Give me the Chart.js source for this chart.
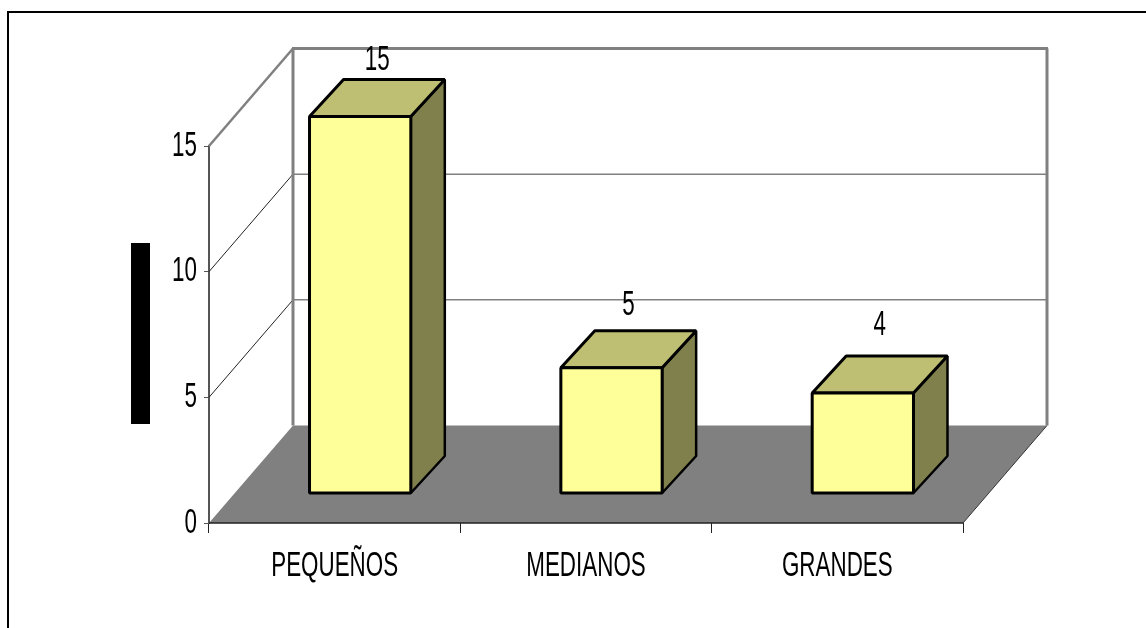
<!DOCTYPE html>
<html>
<head>
<meta charset="utf-8">
<script src="https://cdn.jsdelivr.net/npm/chart.js@4/dist/chart.umd.min.js"></script>
<style>
  html, body { margin: 0; padding: 0; background: #fff; overflow: hidden; }
  canvas { display: block; }
</style>
</head>
<body>
<canvas id="chart" width="1146" height="628"></canvas>
<script>
const categories = ['PEQUEÑOS', 'MEDIANOS', 'GRANDES']
const values = [15, 5, 4]
const yMax = 15
const yStep = 5

// 3d look
const wallDx = 84, wallDy = -97.5
const barShiftX = 25.5, barShiftY = -29.5
const barDx = 34, barDy = -37
const labelLift = [56, 62, 68]
const fontName = '"Liberation Sans", Arial, sans-serif'
const fontSize = 35
const textSqueeze = 0.64

function poly(ctx, pts, fill, stroke, width) {
    ctx.beginPath()
    pts.forEach((p, i) => i ? ctx.lineTo(p[0], p[1]) : ctx.moveTo(p[0], p[1]))
    ctx.closePath()
    if (fill) { ctx.fillStyle = fill; ctx.fill() }
    if (stroke) { ctx.strokeStyle = stroke; ctx.lineWidth = width; ctx.lineJoin = 'bevel'; ctx.stroke() }
}

function line(ctx, x1, y1, x2, y2, color, width) {
    ctx.beginPath()
    ctx.moveTo(x1, y1)
    ctx.lineTo(x2, y2)
    ctx.strokeStyle = color
    ctx.lineWidth = width
    ctx.stroke()
}

const box3d = {
    id: 'box3d',
    beforeInit(chart) {
        // the original text is squeezed sideways, no narrow font here
        const ctx = chart.ctx
        const fillText = ctx.fillText.bind(ctx)
        ctx.fillText = function (text, x, y) {
            ctx.save()
            ctx.translate(x, y)
            ctx.scale(textSqueeze, 1)
            fillText(text, 0, 0)
            ctx.restore()
        }
    },
    beforeDatasetsDraw(chart) {
        const ctx = chart.ctx
        const a = chart.chartArea
        const y = chart.scales.y
        const y0 = y.getPixelForValue(0)
        const yTop = y.getPixelForValue(yMax)
        ctx.save()

        // outer frame
        line(ctx, 8, 12, 1146, 12, '#000', 2)
        line(ctx, 8, 11, 8, 628, '#000', 2)

        // black block on the left
        ctx.fillStyle = '#000'
        ctx.fillRect(131, 243, 19, 181)

        // floor
        poly(ctx, [[a.left, y0], [a.left + wallDx, y0 + wallDy], [a.right + wallDx, y0 + wallDy], [a.right, y0]], '#808080')
        line(ctx, a.right, y0, a.right + wallDx, y0 + wallDy, '#333', 1)

        // walls
        y.ticks.forEach(t => {
            if (t.value == 0 || t.value == yMax) return
            const py = y.getPixelForValue(t.value)
            line(ctx, a.left, py, a.left + wallDx, py + wallDy, '#222', 1)
            line(ctx, a.left + wallDx, py + wallDy, a.right + wallDx, py + wallDy, '#808080', 1.5)
        })
        line(ctx, a.left, yTop, a.left + wallDx, yTop + wallDy, '#808080', 2.5)
        line(ctx, a.left + wallDx - 1, yTop + wallDy, a.right + wallDx + 1, yTop + wallDy, '#808080', 3)
        line(ctx, a.left + wallDx, yTop + wallDy, a.left + wallDx, y0 + wallDy, '#808080', 3)
        line(ctx, a.right + wallDx, yTop + wallDy, a.right + wallDx, y0 + wallDy, '#808080', 3)

        // bar top and side
        chart.getDatasetMeta(0).data.forEach(b => {
            const l = b.x - b.width / 2 + barShiftX
            const r = b.x + b.width / 2 + barShiftX
            const t = b.y + barShiftY
            const f = b.base + barShiftY
            poly(ctx, [[r, t], [r + barDx, t + barDy], [r + barDx, f + barDy], [r, f]], '#80804D', '#000', 2.5)
            poly(ctx, [[l, t], [l + barDx, t + barDy], [r + barDx, t + barDy], [r, t]], '#BFBF73', '#000', 3)
        })
        ctx.restore()
    },
    beforeDatasetDraw(chart) {
        chart.ctx.save()
        chart.ctx.translate(barShiftX, barShiftY)
    },
    afterDatasetDraw(chart) {
        chart.ctx.restore()
    },
    afterDatasetsDraw(chart) {
        const ctx = chart.ctx
        const a = chart.chartArea
        const y0 = chart.scales.y.getPixelForValue(0)
        ctx.save()
        line(ctx, a.left, y0, a.right, y0, '#222', 1.5)

        // front face outline, centred on the bar edge
        chart.getDatasetMeta(0).data.forEach(b => {
            const l = b.x - b.width / 2 + barShiftX
            const r = b.x + b.width / 2 + barShiftX
            const t = b.y + barShiftY
            const f = b.base + barShiftY
            poly(ctx, [[l, t], [r, t], [r, f], [l, f]], null, '#000', 3)
        })

        ctx.font = fontSize + 'px ' + fontName
        ctx.fillStyle = '#000'
        ctx.textAlign = 'center'
        ctx.textBaseline = 'middle'
        chart.getDatasetMeta(0).data.forEach((b, i) => {
            ctx.fillText(values[i], b.x + barShiftX + barDx / 2, b.y + barShiftY - labelLift[i])
        })
        ctx.restore()
    }
}

new Chart(document.getElementById('chart'), {
    type: 'bar',
    data: {
        labels: categories,
        datasets: [{
            data: values,
            backgroundColor: '#FFFF99',
            borderWidth: 0,
            barPercentage: 0.403,
            categoryPercentage: 1
        }]
    },
    options: {
        responsive: false,
        animation: false,
        events: [],
        layout: { padding: { left: 150, top: 146, right: 183, bottom: 35 } },
        plugins: { legend: { display: false }, tooltip: { enabled: false } },
        scales: {
            x: {
                afterFit: s => { s.height = 70 },
                grid: { offset: true, drawOnChartArea: false, color: '#222', tickLength: 10, tickWidth: 1 },
                border: { display: false },
                ticks: { color: '#000', padding: 12, font: { family: fontName, size: fontSize }, maxRotation: 0, autoSkip: false }
            },
            y: {
                min: 0,
                max: yMax,
                afterFit: s => { s.width = 59 },
                grid: { drawOnChartArea: false, color: '#555', tickLength: 5, tickWidth: 1 },
                border: { color: '#555', width: 2 },
                ticks: { stepSize: yStep, color: '#000', padding: 7, font: { family: fontName, size: fontSize } }
            }
        }
    },
    plugins: [box3d]
})
</script>
</body>
</html>
